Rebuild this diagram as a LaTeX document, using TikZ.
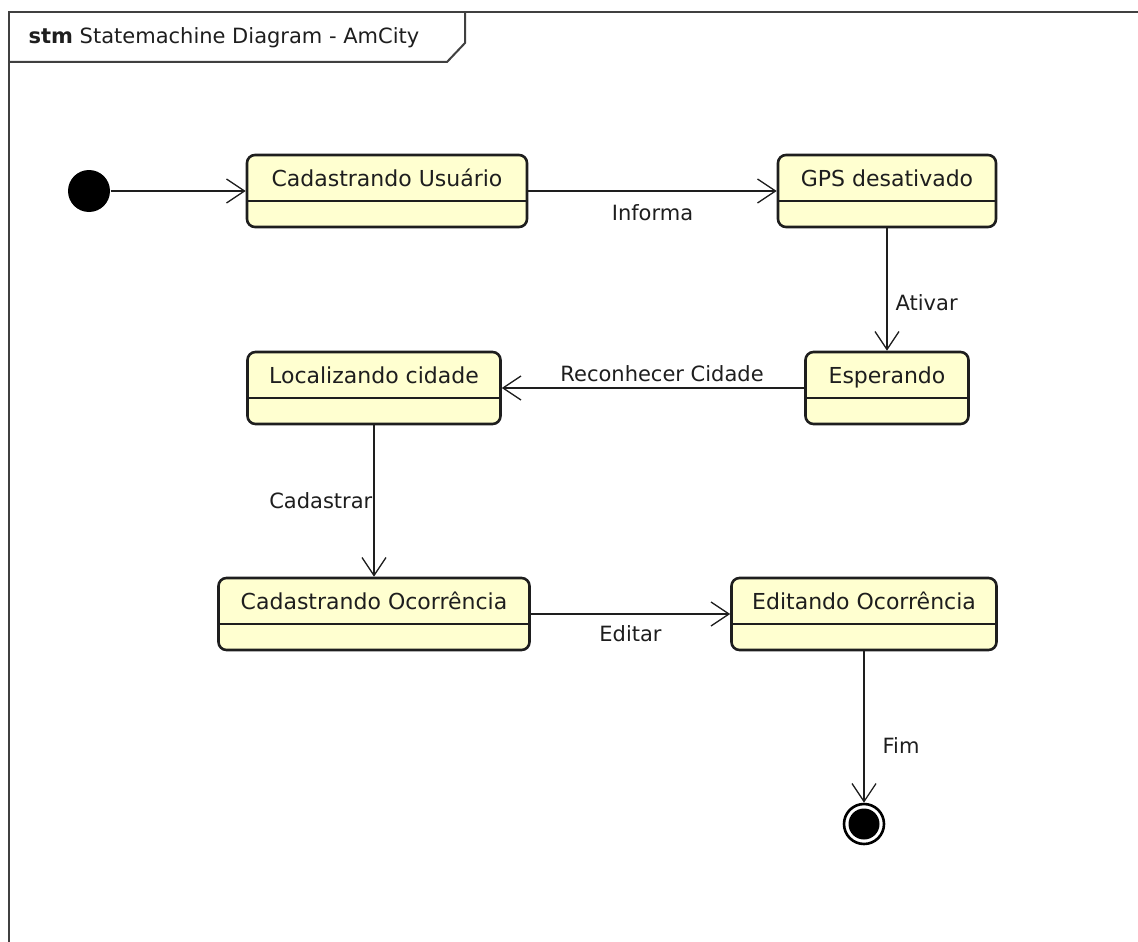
\documentclass[tikz,border=0pt]{standalone}
\usepackage{fontspec}
\setmainfont{DejaVu Sans}
\usepackage{xcolor}
\usetikzlibrary{arrows.meta}

\definecolor{stfill}{RGB}{255,255,208}
\definecolor{stline}{RGB}{30,30,30}

\begin{document}
\begin{tikzpicture}[x=1pt, y=-1pt,
	>={Straight Barb[length=18pt,width=24pt]},
	line width=1.3pt,
	stbox/.style = {draw=stline, line width=2.6pt, rounded corners=8pt, fill=stfill,
		minimum height=72pt, inner xsep=0pt, inner ysep=9pt, text height=22pt, text depth=32pt,
		font=\fontsize{22pt}{26pt}\selectfont, text=stline,
		path picture={\draw[line width=1.5pt] ([yshift=-46pt]path picture bounding box.north west) -- ([yshift=-46pt]path picture bounding box.north east);}},
	el/.style = {inner sep=0pt, font=\fontsize{21pt}{25pt}\selectfont, text=stline}
	]
	\useasboundingbox (0,0) rectangle (1138,942);
	
	% frame
	\draw[line width=2pt, draw=black!75] (9,942) -- (9,12) -- (1138,12);
	\draw[line width=2pt, draw=black!75] (9,62) -- (447,62) -- (465,43) -- (465,12);
	\node (ttl) [el, anchor=west] at (28,38) {\textbf{stm} Statemachine Diagram - AmCity};
	
	\node (ini) [circle, fill=black, minimum size=42pt, inner sep=0pt] at (89,191) {};
	
	\node (cu)  [stbox, minimum width=280pt] at (387,191) {Cadastrando Usuário};
	\node (gps) [stbox, minimum width=218pt] at (887,191) {GPS desativado};
	\node (loc) [stbox, minimum width=253pt] at (374,388) {Localizando cidade};
	\node (esp) [stbox, minimum width=163pt] at (887,388) {Esperando};
	\node (co)  [stbox, minimum width=311pt] at (374,614) {Cadastrando Ocorrência};
	\node (ed)  [stbox, minimum width=265pt] at (864,614) {Editando Ocorrência};
	
	\node (fim) [circle, draw=black, line width=2.6pt, minimum size=40pt, inner sep=0pt,
		path picture={\fill (path picture bounding box.center) circle (15.5pt);}] at (864,824) {};
	
	\path[->, draw=stline]
	(ini) edge (cu)
	(cu)  edge  node[el, below=13pt]           {Informa}           (gps)
	(gps) edge  node[el, pos=0.61, right=8pt]  {Ativar}            (esp)
	(esp) edge  node[el, pos=0.47, above=6pt]  {Reconhecer Cidade} (loc)
	(loc) edge  node[el, left=1pt]             {Cadastrar}         (co)
	(co)  edge  node[el, below=11pt]           {Editar}            (ed)
	(ed)  edge  node[el, pos=0.62, right=18pt] {Fim}               (fim);
\end{tikzpicture}
\end{document}
